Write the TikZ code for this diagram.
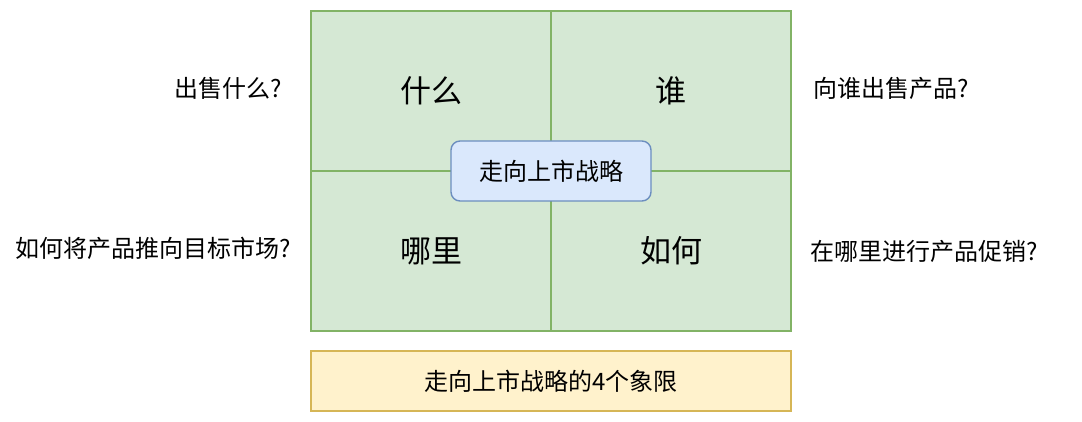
\documentclass[tikz,border=0pt]{standalone}
\usepackage{fontspec}
\setmainfont{Noto Sans CJK SC}
\definecolor{quadfill}{HTML}{D5E8D4}
\definecolor{quaddraw}{HTML}{82B366}
\definecolor{corefill}{HTML}{DAE8FC}
\definecolor{coredraw}{HTML}{6C8EBF}
\definecolor{notefill}{HTML}{FFF2CC}
\definecolor{notedraw}{HTML}{D6B656}
\usetikzlibrary{positioning}

\begin{document}
\begin{tikzpicture}[
  x=1pt, y=-1pt,
  quad/.style={
    rectangle, draw=quaddraw, fill=quadfill, line width=1.4pt,
    minimum width=240pt, minimum height=160pt, align=center,
    font=\fontsize{31}{37}\selectfont
  },
  core/.style={
    rectangle, rounded corners=9pt, draw=coredraw, fill=corefill, line width=1.4pt,
    minimum width=200pt, minimum height=60pt, align=center,
    font=\fontsize{24}{28}\selectfont
  },
  note/.style={
    rectangle, draw=notedraw, fill=notefill, line width=1.4pt,
    minimum width=480pt, minimum height=60pt, align=center,
    font=\fontsize{24}{28}\selectfont
  },
  question/.style={font=\fontsize{24}{28}\selectfont, inner sep=0pt},
]
\useasboundingbox (0,0) rectangle (1082,422);

% Four quadrants
\node[quad] (what)  at (431,91)  {什么};
\node[quad] (who)   at (671,91)  {谁};
\node[quad] (where) at (431,251) {哪里};
\node[quad] (how)   at (671,251) {如何};

% Centre label
\node[core] (gtm) at (551,171) {走向上市战略};

% Caption
\node[note] (caption) at (551,381) {走向上市战略的4个象限};

% Questions beside the quadrants
\node[question] (qwhat)  at (228,88)  {出售什么?};
\node[question] (qhow)   at (153,248) {如何将产品推向目标市场?};
\node[question] (qwho)   at (891,88)  {向谁出售产品?};
\node[question] (qwhere) at (924,251) {在哪里进行产品促销?};

\end{tikzpicture}
\end{document}
